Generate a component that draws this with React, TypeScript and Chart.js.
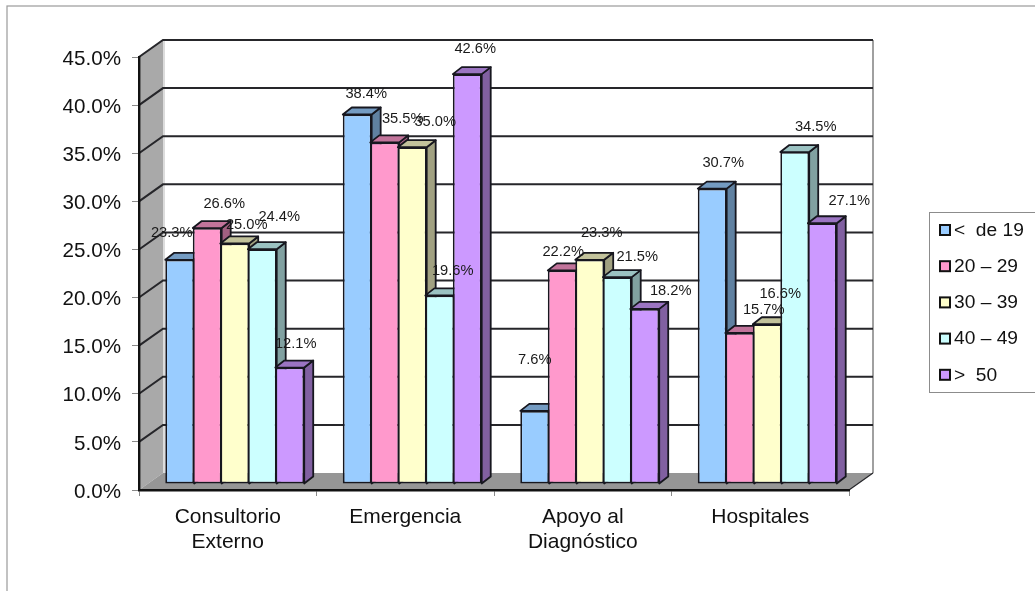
import React, { useEffect, useRef } from "react";
import { Chart, registerables } from "chart.js";

Chart.register(...registerables);

const categories = [["Consultorio", "Externo"], "Emergencia", ["Apoyo al", "Diagnóstico"], "Hospitales"];
const seriesLabels = ["<  de 19", "20 – 29", "30 – 39", "40 – 49", ">  50"];
const under19 = [23.3, 38.4, 7.6, 30.7];
const from20to29 = [26.6, 35.5, 22.2, 15.7];
const from30to39 = [25.0, 35.0, 23.3, 16.6];
const from40to49 = [24.4, 19.6, 21.5, 34.5];
const over50 = [12.1, 42.6, 18.2, 27.1];
const seriesColors = ["#99CCFF", "#FF99CC", "#FFFFCC", "#CCFFFF", "#CC99FF"];

// Hand placed value labels, as [dx, dy] from the top centre of each bar's front face.
const labelOffsets = [
  [[-8, -27], [9, -21], [0, -51], [11, -26]],
  [[17, -24], [18, -23], [1, -18], [24, -23]],
  [[12, -18], [23, -25], [12, -27], [13, -30]],
  [[17, -32], [13, -24], [20, -20], [21, -25]],
  [[6, -24], [8, -25], [26, -18], [27, -22]],
];

const FONT = "'Liberation Sans', Arial, sans-serif";
const INK = "#17171f";
// Depth of the chart box and of the bars, in canvas pixels.
const BOX_DX = 24;
const BOX_DY = -17;
const BAR_SHIFT_X = 7;
const BAR_SHIFT_Y = -6;
const BAR_DX = 9;
const BAR_DY = -7;

function shade(hex: string, k: number) {
  const n = parseInt(hex.slice(1), 16);
  const c = [(n >> 16) & 255, (n >> 8) & 255, n & 255].map((v) => Math.round(v * k));
  return `rgb(${c[0]},${c[1]},${c[2]})`;
}

function poly(ctx: CanvasRenderingContext2D, pts: number[][], fill: string | null, stroke: string | null, lw = 1) {
  ctx.beginPath();
  pts.forEach((p, i) => (i ? ctx.lineTo(p[0], p[1]) : ctx.moveTo(p[0], p[1])));
  ctx.closePath();
  if (fill) {
    ctx.fillStyle = fill;
    ctx.fill();
  }
  if (stroke) {
    ctx.strokeStyle = stroke;
    ctx.lineWidth = lw;
    ctx.stroke();
  }
}

// Page frame, walls, floor and gridlines of the 3D box.
const boxPlugin = {
  id: "box3d",
  beforeDraw(chart: any) {
    const { ctx, chartArea: a, scales } = chart;
    const { left: l, right: r, top: t, bottom: b } = a;
    ctx.save();
    ctx.fillStyle = "#fff";
    ctx.fillRect(0, 0, chart.width, chart.height);
    ctx.strokeStyle = "#9a9a9a";
    ctx.lineWidth = 1.2;
    ctx.strokeRect(7, 6, chart.width + 20, chart.height + 20);

    poly(ctx, [[l, t], [l + BOX_DX, t + BOX_DY], [l + BOX_DX, b + BOX_DY], [l, b]], "#a9a9a9", null);
    poly(ctx, [[l, b], [r, b], [r + BOX_DX, b + BOX_DY], [l + BOX_DX, b + BOX_DY]], "#969696", null);

    ctx.strokeStyle = "#dcdcdc";
    ctx.lineWidth = 2;
    ctx.beginPath();
    ctx.moveTo(l + BOX_DX + 1, t + BOX_DY);
    ctx.lineTo(l + BOX_DX + 1, b + BOX_DY);
    ctx.stroke();
    ctx.strokeStyle = "#a0a0a0";
    ctx.lineWidth = 2;
    ctx.beginPath();
    ctx.moveTo(r + BOX_DX, t + BOX_DY);
    ctx.lineTo(r + BOX_DX, b + BOX_DY);
    ctx.stroke();

    ctx.strokeStyle = "#26262a";
    ctx.lineWidth = 2;
    scales.y.ticks.forEach((tick: any) => {
      if (tick.value === 0) return;
      const y = scales.y.getPixelForValue(tick.value);
      ctx.beginPath();
      ctx.moveTo(l, y);
      ctx.lineTo(l + BOX_DX, y + BOX_DY);
      ctx.lineTo(r + BOX_DX, y + BOX_DY);
      ctx.stroke();
    });
    ctx.lineWidth = 1.2;
    ctx.beginPath();
    ctx.moveTo(r, b);
    ctx.lineTo(r + BOX_DX, b + BOX_DY);
    ctx.stroke();
    ctx.restore();
  },
  // Series are painted left to right so each bar hides its left neighbour's side face:
  // side and top faces first, then the library's own bar element as the front face.
  beforeDatasetsDraw(chart: any) {
    const { ctx } = chart;
    chart.data.datasets.forEach((_: any, s: number) => {
      const meta = chart.getDatasetMeta(s);
      const color = seriesColors[s];
      ctx.save();
      ctx.translate(BAR_SHIFT_X, BAR_SHIFT_Y);
      ctx.lineJoin = "round";
      meta.data.forEach((bar: any) => {
        const { x, y, base, width } = bar.getProps(["x", "y", "base", "width"], true);
        const x0 = x - width / 2;
        const x1 = x + width / 2;
        poly(ctx, [[x1, y], [x1 + BAR_DX, y + BAR_DY], [x1 + BAR_DX, base + BAR_DY], [x1, base]], shade(color, 0.63), INK, 1.8);
        poly(ctx, [[x0, y], [x0 + BAR_DX, y + BAR_DY], [x1 + BAR_DX, y + BAR_DY], [x1, y]], shade(color, 0.76), INK, 1.8);
      });
      meta.controller.draw();
      ctx.restore();
    });
  },
  // The bars are already painted above, in series order.
  beforeDatasetDraw() {
    return false;
  },
  // Value labels and the legend box sit above everything else.
  afterDraw(chart: any) {
    const { ctx } = chart;
    ctx.save();
    ctx.font = `14.7px ${FONT}`;
    ctx.fillStyle = "#1a1a1a";
    ctx.textAlign = "center";
    ctx.textBaseline = "middle";
    chart.data.datasets.forEach((ds: any, s: number) => {
      chart.getDatasetMeta(s).data.forEach((bar: any, c: number) => {
        const [dx, dy] = labelOffsets[s][c];
        const text = `${ds.data[c].toFixed(1)}%`;
        ctx.fillText(text, bar.x + BAR_SHIFT_X + dx, bar.y + BAR_SHIFT_Y + dy);
      });
    });

    ctx.strokeStyle = "#8c8c8c";
    ctx.lineWidth = 1;
    ctx.strokeRect(929.5, 212.5, 120, 180);
    ctx.font = `19.2px ${FONT}`;
    ctx.textAlign = "left";
    chart.data.datasets.forEach((ds: any, s: number) => {
      const y = 230 + 36.2 * s;
      ctx.fillStyle = ds.backgroundColor;
      ctx.fillRect(940, y - 5, 10, 10);
      ctx.strokeStyle = "#111";
      ctx.lineWidth = 2;
      ctx.strokeRect(940, y - 5, 10, 10);
      ctx.fillStyle = "#111";
      ctx.fillText(ds.label, 954, y + 0.5);
    });
    ctx.restore();
  },
};

export default function App() {
  const ref = useRef<HTMLCanvasElement>(null);

  useEffect(() => {
    const series = [under19, from20to29, from30to39, from40to49, over50];
    const chart = new Chart(ref.current as HTMLCanvasElement, {
      type: "bar",
      plugins: [boxPlugin],
      data: {
        labels: categories as any,
        datasets: series.map((data, i) => ({
          label: seriesLabels[i],
          data,
          backgroundColor: seriesColors[i],
          borderColor: INK,
          borderWidth: 1.8,
          borderSkipped: false,
        })),
      },
      options: {
        responsive: false,
        animation: false,
        layout: { padding: { left: 39, right: 186, top: 57, bottom: 0 } },
        plugins: { legend: { display: false }, tooltip: { enabled: false } },
        datasets: { bar: { categoryPercentage: 0.775, barPercentage: 1.05 } },
        scales: {
          x: {
            afterFit(scale: any) {
              scale.height = 101;
            },
            border: { color: "#111", width: 2.4 },
            grid: { drawOnChartArea: false, drawTicks: true, tickLength: 6, color: "#8a8a8a" },
            ticks: {
              autoSkip: false,
              maxRotation: 0,
              minRotation: 0,
              padding: 9,
              color: "#111",
              font: { family: FONT, size: 21, lineHeight: 1.17 },
            },
          },
          y: {
            min: 0,
            max: 45,
            afterFit(scale: any) {
              scale.width = 100;
            },
            border: { color: "#111", width: 2.4 },
            grid: { drawOnChartArea: false, drawTicks: true, tickLength: 7, color: "#8a8a8a" },
            ticks: {
              stepSize: 5,
              padding: 11,
              labelOffset: 2,
              color: "#111",
              font: { family: FONT, size: 20.6 },
              callback: (v: any) => `${Number(v).toFixed(1)}%`,
            },
          },
        },
      },
    });
    return () => chart.destroy();
  }, []);

  return (
    <div style={{ position: "absolute", left: 0, top: 0, width: 1035, height: 591, overflow: "hidden", background: "#fff" }}>
      <canvas ref={ref} width={1035} height={591} style={{ display: "block" }} />
    </div>
  );
}
